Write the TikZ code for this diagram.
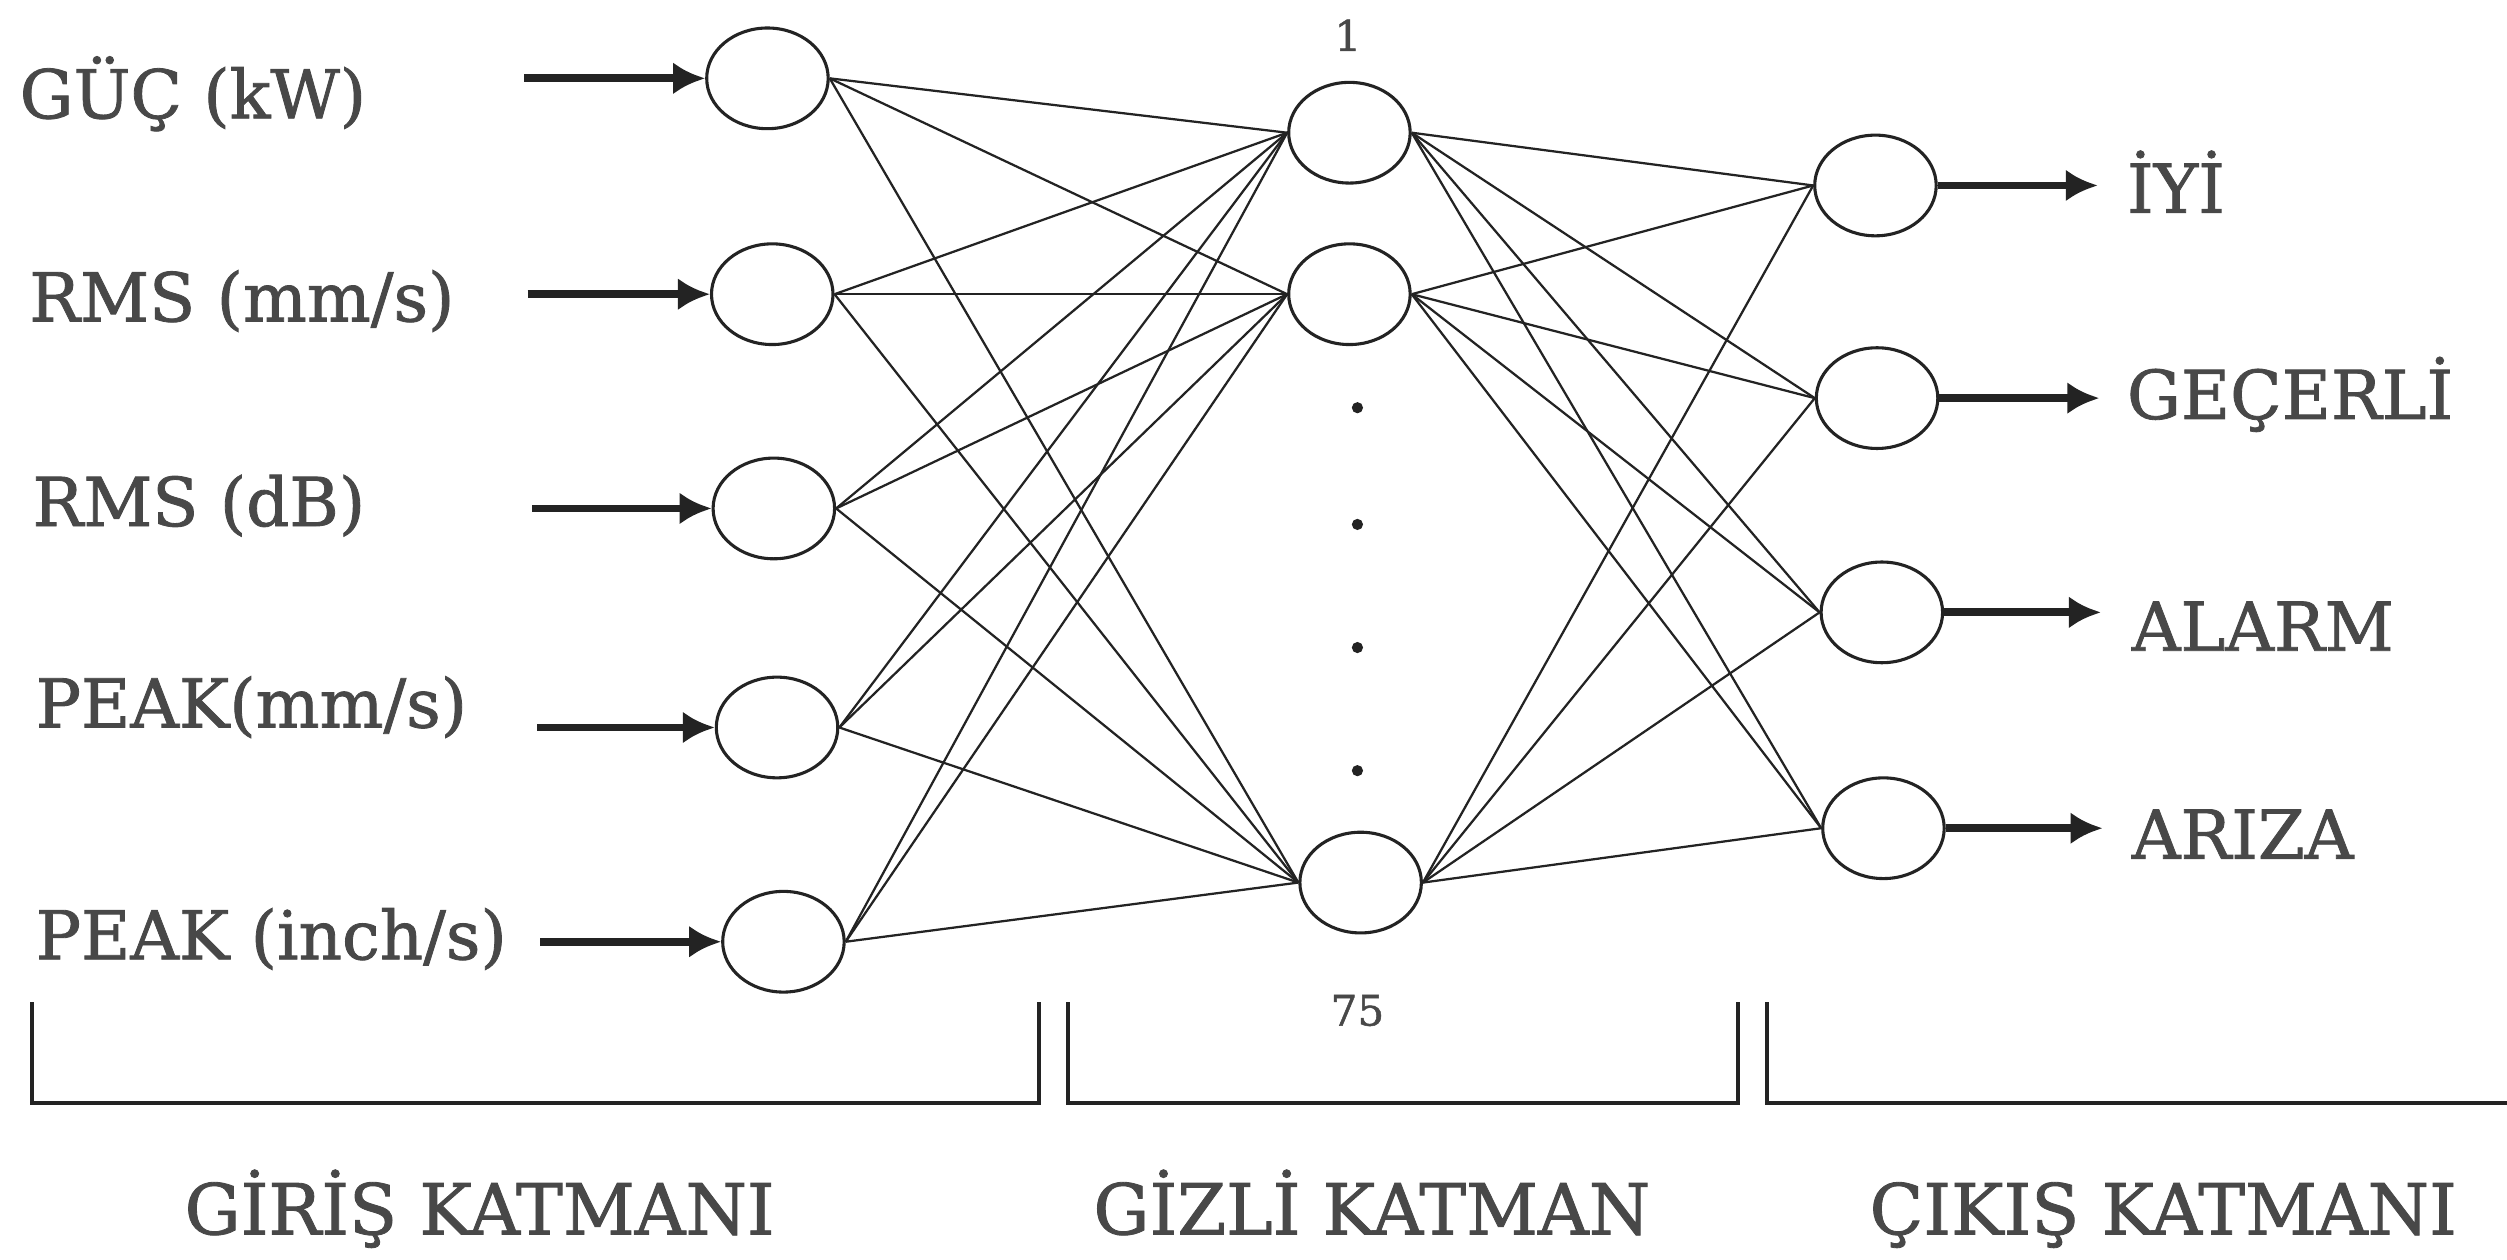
\documentclass[tikz,border=0pt]{standalone}
\usepackage{fontspec}
\setmainfont{DejaVu Serif}
\newfontfamily\lblfont{DejaVu Serif}[FakeBold=1.2]
\usetikzlibrary{shapes.geometric,arrows.meta}
\definecolor{ink}{RGB}{35,35,35}
\definecolor{txt}{RGB}{72,72,72}
\begin{document}
\begin{tikzpicture}[x=0.02cm,y=-0.02cm,
  neuron/.style={ellipse,draw=ink,line width=1.1pt,minimum width=1.52cm,minimum height=1.26cm,inner sep=0pt},
  link/.style={draw=ink,line width=0.8pt},
  thickarrow/.style={draw=ink,line width=2.8pt,-{Latex[length=0.4cm,width=0.4cm]}},
  lbl/.style={text=txt,font=\lblfont\fontsize{24}{27}\selectfont,anchor=base west,inner sep=0pt},
  layerlbl/.style={text=txt,font=\lblfont\fontsize{25}{29}\selectfont,anchor=base,inner sep=0pt},
  numlbl/.style={text=txt,font=\lblfont\fontsize{15}{17}\selectfont,inner sep=0pt},
  bracket/.style={draw=ink,line width=1.3pt}]
\useasboundingbox[fill=white] (0,0) rectangle (1568,788);

% input layer
\node[neuron] (I1) at (480,49) {};
\node[neuron] (I2) at (483,184) {};
\node[neuron] (I3) at (484,318) {};
\node[neuron] (I4) at (486,455) {};
\node[neuron] (I5) at (490,589) {};
% hidden layer
\node[neuron] (H1) at (844,83) {};
\node[neuron] (H2) at (844,184) {};
\node[neuron] (H75) at (851,552) {};
% output layer
\node[neuron] (O1) at (1173,116) {};
\node[neuron] (O2) at (1174,249) {};
\node[neuron] (O3) at (1177,383) {};
\node[neuron] (O4) at (1178,518) {};

% connections
\foreach \i in {I1,I2,I3,I4,I5}
  \foreach \h in {H1,H2,H75}
    \draw[link] (\i.east) -- (\h.west);
\foreach \h in {H1,H2,H75}
  \foreach \o in {O1,O2,O3,O4}
    \draw[link] (\h.east) -- (\o.west);

% hidden dots
\foreach \yy in {255,328,405,482}
  \fill[ink] (849,\yy) circle[radius=0.07cm];
\node[numlbl] (n1) at (843,22) {1};
\node[numlbl] (n75) at (849,632) {75};

% input arrows
\coordinate (a1) at (328,49);
\coordinate (a2) at (330,184);
\coordinate (a3) at (333,318);
\coordinate (a4) at (336,455);
\coordinate (a5) at (338,589);
\draw[thickarrow] (a1) -- (I1.west);
\draw[thickarrow] (a2) -- (I2.west);
\draw[thickarrow] (a3) -- (I3.west);
\draw[thickarrow] (a4) -- (I4.west);
\draw[thickarrow] (a5) -- (I5.west);

% output arrows
\coordinate (b1) at (1312,116);
\coordinate (b2) at (1313,249);
\coordinate (b3) at (1314,383);
\coordinate (b4) at (1315,518);
\draw[thickarrow] (O1.east) -- (b1);
\draw[thickarrow] (O2.east) -- (b2);
\draw[thickarrow] (O3.east) -- (b3);
\draw[thickarrow] (O4.east) -- (b4);

% input labels
\node[lbl] (t1) at (12,74) {GÜÇ (kW)};
\node[lbl] (t2) at (18,201) {RMS (mm/s)};
\node[lbl] (t3) at (20,329) {RMS (dB)};
\node[lbl] (t4) at (22,455) {PEAK(mm/s)};
\node[lbl] (t5) at (22,600) {PEAK (inch/s)};

% output labels
\node[lbl] (u1) at (1330,133) {İYİ};
\node[lbl] (u2) at (1330,262) {GEÇERLİ};
\node[lbl] (u3) at (1333,407) {ALARM};
\node[lbl] (u4) at (1333,537) {ARIZA};

% brackets
\draw[bracket] (20,627) -- (20,690) -- (650,690) -- (650,627);
\draw[bracket] (668,627) -- (668,690) -- (1087,690) -- (1087,627);
\draw[bracket] (1105,627) -- (1105,690) -- (1568,690);

% layer labels
\node[layerlbl] (g1) at (300,772) {GİRİŞ KATMANI};
\node[layerlbl] (g2) at (858,772) {GİZLİ KATMAN};
\node[layerlbl] (g3) at (1353,772) {ÇIKIŞ KATMANI};
\end{tikzpicture}
\end{document}
